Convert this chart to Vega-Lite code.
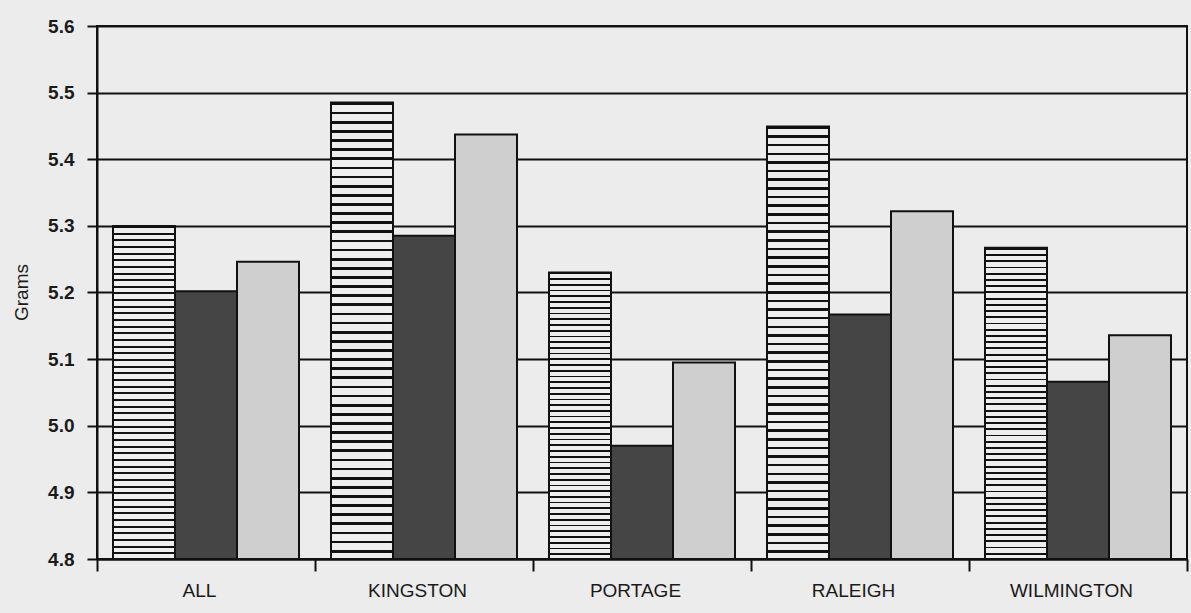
{
  "$schema": "https://vega.github.io/schema/vega-lite/v6.json",
  "autosize": "none",
  "width": 1090,
  "height": 533,
  "padding": {"left": 97, "top": 26, "right": 4, "bottom": 54},
  "background": "#ececec",
  "config": {
    "view": {"stroke": "#111", "strokeWidth": 2},
    "font": "Liberation Sans",
    "axis": {
      "domainColor": "#111", "domainWidth": 2,
      "tickColor": "#111", "tickWidth": 2,
      "labelColor": "#1a1a1a", "titleColor": "#1a1a1a",
      "labelFont": "Liberation Sans", "titleFont": "Liberation Sans"
    }
  },
  "data": {"values": [
    {"city": "ALL", "group": "A", "grams": 5.300},
    {"city": "ALL", "group": "B", "grams": 5.202},
    {"city": "ALL", "group": "C", "grams": 5.246},
    {"city": "KINGSTON", "group": "A", "grams": 5.485},
    {"city": "KINGSTON", "group": "B", "grams": 5.285},
    {"city": "KINGSTON", "group": "C", "grams": 5.437},
    {"city": "PORTAGE", "group": "A", "grams": 5.230},
    {"city": "PORTAGE", "group": "B", "grams": 4.970},
    {"city": "PORTAGE", "group": "C", "grams": 5.095},
    {"city": "RALEIGH", "group": "A", "grams": 5.449},
    {"city": "RALEIGH", "group": "B", "grams": 5.167},
    {"city": "RALEIGH", "group": "C", "grams": 5.322},
    {"city": "WILMINGTON", "group": "A", "grams": 5.267},
    {"city": "WILMINGTON", "group": "B", "grams": 5.066},
    {"city": "WILMINGTON", "group": "C", "grams": 5.136}
  ]},
  "encoding": {
    "x": {
      "field": "city", "type": "nominal", "sort": null,
      "scale": {"paddingInner": 0, "paddingOuter": 0},
      "axis": {
        "title": null, "labelAngle": 0, "tickBand": "extent", "tickSize": 12,
        "labelFontSize": 19, "labelPadding": 10, "labelOffset": -7, "grid": false
      }
    },
    "xOffset": {
      "field": "group", "type": "nominal",
      "scale": {"domain": ["A", "B", "C"], "paddingInner": 0, "paddingOuter": 0.258}
    },
    "y": {
      "field": "grams", "type": "quantitative",
      "scale": {"domain": [4.8, 5.6], "zero": false, "nice": false},
      "axis": {
        "title": "Grams", "values": [4.8, 4.9, 5.0, 5.1, 5.2, 5.3, 5.4, 5.5, 5.6],
        "format": ".1f", "grid": true, "gridColor": "#111", "gridWidth": 2, "gridOpacity": 1,
        "tickSize": 10, "labelFontSize": 19, "labelFontWeight": "bold", "labelPadding": 13,
        "titleFontSize": 19, "titleFontWeight": "normal", "titleAngle": -90,
        "titleX": -76, "titleY": 266, "titleAlign": "center", "titleBaseline": "middle"
      }
    },
    "y2": {"datum": 4.8}
  },
  "layer": [
    {
      "transform": [{"filter": "datum.group === 'A'"}],
      "mark": {
        "type": "bar", "stroke": "#111", "strokeWidth": 2,
        "fill": {
          "gradient": "linear", "x1": 0, "y1": 0, "x2": 0, "y2": 1,
          "stops": [
            {"offset": 0, "color": "#111"}, {"offset": 0.006, "color": "#111"}, {"offset": 0.006, "color": "#eee"}, {"offset": 0.02, "color": "#eee"},
            {"offset": 0.02, "color": "#111"}, {"offset": 0.026, "color": "#111"}, {"offset": 0.026, "color": "#eee"}, {"offset": 0.04, "color": "#eee"},
            {"offset": 0.04, "color": "#111"}, {"offset": 0.046, "color": "#111"}, {"offset": 0.046, "color": "#eee"}, {"offset": 0.06, "color": "#eee"},
            {"offset": 0.06, "color": "#111"}, {"offset": 0.066, "color": "#111"}, {"offset": 0.066, "color": "#eee"}, {"offset": 0.08, "color": "#eee"},
            {"offset": 0.08, "color": "#111"}, {"offset": 0.086, "color": "#111"}, {"offset": 0.086, "color": "#eee"}, {"offset": 0.10, "color": "#eee"},
            {"offset": 0.10, "color": "#111"}, {"offset": 0.106, "color": "#111"}, {"offset": 0.106, "color": "#eee"}, {"offset": 0.12, "color": "#eee"},
            {"offset": 0.12, "color": "#111"}, {"offset": 0.126, "color": "#111"}, {"offset": 0.126, "color": "#eee"}, {"offset": 0.14, "color": "#eee"},
            {"offset": 0.14, "color": "#111"}, {"offset": 0.146, "color": "#111"}, {"offset": 0.146, "color": "#eee"}, {"offset": 0.16, "color": "#eee"},
            {"offset": 0.16, "color": "#111"}, {"offset": 0.166, "color": "#111"}, {"offset": 0.166, "color": "#eee"}, {"offset": 0.18, "color": "#eee"},
            {"offset": 0.18, "color": "#111"}, {"offset": 0.186, "color": "#111"}, {"offset": 0.186, "color": "#eee"}, {"offset": 0.20, "color": "#eee"},
            {"offset": 0.20, "color": "#111"}, {"offset": 0.206, "color": "#111"}, {"offset": 0.206, "color": "#eee"}, {"offset": 0.22, "color": "#eee"},
            {"offset": 0.22, "color": "#111"}, {"offset": 0.226, "color": "#111"}, {"offset": 0.226, "color": "#eee"}, {"offset": 0.24, "color": "#eee"},
            {"offset": 0.24, "color": "#111"}, {"offset": 0.246, "color": "#111"}, {"offset": 0.246, "color": "#eee"}, {"offset": 0.26, "color": "#eee"},
            {"offset": 0.26, "color": "#111"}, {"offset": 0.266, "color": "#111"}, {"offset": 0.266, "color": "#eee"}, {"offset": 0.28, "color": "#eee"},
            {"offset": 0.28, "color": "#111"}, {"offset": 0.286, "color": "#111"}, {"offset": 0.286, "color": "#eee"}, {"offset": 0.30, "color": "#eee"},
            {"offset": 0.30, "color": "#111"}, {"offset": 0.306, "color": "#111"}, {"offset": 0.306, "color": "#eee"}, {"offset": 0.32, "color": "#eee"},
            {"offset": 0.32, "color": "#111"}, {"offset": 0.326, "color": "#111"}, {"offset": 0.326, "color": "#eee"}, {"offset": 0.34, "color": "#eee"},
            {"offset": 0.34, "color": "#111"}, {"offset": 0.346, "color": "#111"}, {"offset": 0.346, "color": "#eee"}, {"offset": 0.36, "color": "#eee"},
            {"offset": 0.36, "color": "#111"}, {"offset": 0.366, "color": "#111"}, {"offset": 0.366, "color": "#eee"}, {"offset": 0.38, "color": "#eee"},
            {"offset": 0.38, "color": "#111"}, {"offset": 0.386, "color": "#111"}, {"offset": 0.386, "color": "#eee"}, {"offset": 0.40, "color": "#eee"},
            {"offset": 0.40, "color": "#111"}, {"offset": 0.406, "color": "#111"}, {"offset": 0.406, "color": "#eee"}, {"offset": 0.42, "color": "#eee"},
            {"offset": 0.42, "color": "#111"}, {"offset": 0.426, "color": "#111"}, {"offset": 0.426, "color": "#eee"}, {"offset": 0.44, "color": "#eee"},
            {"offset": 0.44, "color": "#111"}, {"offset": 0.446, "color": "#111"}, {"offset": 0.446, "color": "#eee"}, {"offset": 0.46, "color": "#eee"},
            {"offset": 0.46, "color": "#111"}, {"offset": 0.466, "color": "#111"}, {"offset": 0.466, "color": "#eee"}, {"offset": 0.48, "color": "#eee"},
            {"offset": 0.48, "color": "#111"}, {"offset": 0.486, "color": "#111"}, {"offset": 0.486, "color": "#eee"}, {"offset": 0.50, "color": "#eee"},
            {"offset": 0.50, "color": "#111"}, {"offset": 0.506, "color": "#111"}, {"offset": 0.506, "color": "#eee"}, {"offset": 0.52, "color": "#eee"},
            {"offset": 0.52, "color": "#111"}, {"offset": 0.526, "color": "#111"}, {"offset": 0.526, "color": "#eee"}, {"offset": 0.54, "color": "#eee"},
            {"offset": 0.54, "color": "#111"}, {"offset": 0.546, "color": "#111"}, {"offset": 0.546, "color": "#eee"}, {"offset": 0.56, "color": "#eee"},
            {"offset": 0.56, "color": "#111"}, {"offset": 0.566, "color": "#111"}, {"offset": 0.566, "color": "#eee"}, {"offset": 0.58, "color": "#eee"},
            {"offset": 0.58, "color": "#111"}, {"offset": 0.586, "color": "#111"}, {"offset": 0.586, "color": "#eee"}, {"offset": 0.60, "color": "#eee"},
            {"offset": 0.60, "color": "#111"}, {"offset": 0.606, "color": "#111"}, {"offset": 0.606, "color": "#eee"}, {"offset": 0.62, "color": "#eee"},
            {"offset": 0.62, "color": "#111"}, {"offset": 0.626, "color": "#111"}, {"offset": 0.626, "color": "#eee"}, {"offset": 0.64, "color": "#eee"},
            {"offset": 0.64, "color": "#111"}, {"offset": 0.646, "color": "#111"}, {"offset": 0.646, "color": "#eee"}, {"offset": 0.66, "color": "#eee"},
            {"offset": 0.66, "color": "#111"}, {"offset": 0.666, "color": "#111"}, {"offset": 0.666, "color": "#eee"}, {"offset": 0.68, "color": "#eee"},
            {"offset": 0.68, "color": "#111"}, {"offset": 0.686, "color": "#111"}, {"offset": 0.686, "color": "#eee"}, {"offset": 0.70, "color": "#eee"},
            {"offset": 0.70, "color": "#111"}, {"offset": 0.706, "color": "#111"}, {"offset": 0.706, "color": "#eee"}, {"offset": 0.72, "color": "#eee"},
            {"offset": 0.72, "color": "#111"}, {"offset": 0.726, "color": "#111"}, {"offset": 0.726, "color": "#eee"}, {"offset": 0.74, "color": "#eee"},
            {"offset": 0.74, "color": "#111"}, {"offset": 0.746, "color": "#111"}, {"offset": 0.746, "color": "#eee"}, {"offset": 0.76, "color": "#eee"},
            {"offset": 0.76, "color": "#111"}, {"offset": 0.766, "color": "#111"}, {"offset": 0.766, "color": "#eee"}, {"offset": 0.78, "color": "#eee"},
            {"offset": 0.78, "color": "#111"}, {"offset": 0.786, "color": "#111"}, {"offset": 0.786, "color": "#eee"}, {"offset": 0.80, "color": "#eee"},
            {"offset": 0.80, "color": "#111"}, {"offset": 0.806, "color": "#111"}, {"offset": 0.806, "color": "#eee"}, {"offset": 0.82, "color": "#eee"},
            {"offset": 0.82, "color": "#111"}, {"offset": 0.826, "color": "#111"}, {"offset": 0.826, "color": "#eee"}, {"offset": 0.84, "color": "#eee"},
            {"offset": 0.84, "color": "#111"}, {"offset": 0.846, "color": "#111"}, {"offset": 0.846, "color": "#eee"}, {"offset": 0.86, "color": "#eee"},
            {"offset": 0.86, "color": "#111"}, {"offset": 0.866, "color": "#111"}, {"offset": 0.866, "color": "#eee"}, {"offset": 0.88, "color": "#eee"},
            {"offset": 0.88, "color": "#111"}, {"offset": 0.886, "color": "#111"}, {"offset": 0.886, "color": "#eee"}, {"offset": 0.90, "color": "#eee"},
            {"offset": 0.90, "color": "#111"}, {"offset": 0.906, "color": "#111"}, {"offset": 0.906, "color": "#eee"}, {"offset": 0.92, "color": "#eee"},
            {"offset": 0.92, "color": "#111"}, {"offset": 0.926, "color": "#111"}, {"offset": 0.926, "color": "#eee"}, {"offset": 0.94, "color": "#eee"},
            {"offset": 0.94, "color": "#111"}, {"offset": 0.946, "color": "#111"}, {"offset": 0.946, "color": "#eee"}, {"offset": 0.96, "color": "#eee"},
            {"offset": 0.96, "color": "#111"}, {"offset": 0.966, "color": "#111"}, {"offset": 0.966, "color": "#eee"}, {"offset": 0.98, "color": "#eee"},
            {"offset": 0.98, "color": "#111"}, {"offset": 0.986, "color": "#111"}, {"offset": 0.986, "color": "#eee"}, {"offset": 1, "color": "#eee"}
          ]
        }
      }
    },
    {
      "transform": [{"filter": "datum.group === 'B'"}],
      "mark": {"type": "bar", "stroke": "#111", "strokeWidth": 2, "fill": "#454545"}
    },
    {
      "transform": [{"filter": "datum.group === 'C'"}],
      "mark": {"type": "bar", "stroke": "#111", "strokeWidth": 2, "fill": "#cfcfcf"}
    }
  ]
}
